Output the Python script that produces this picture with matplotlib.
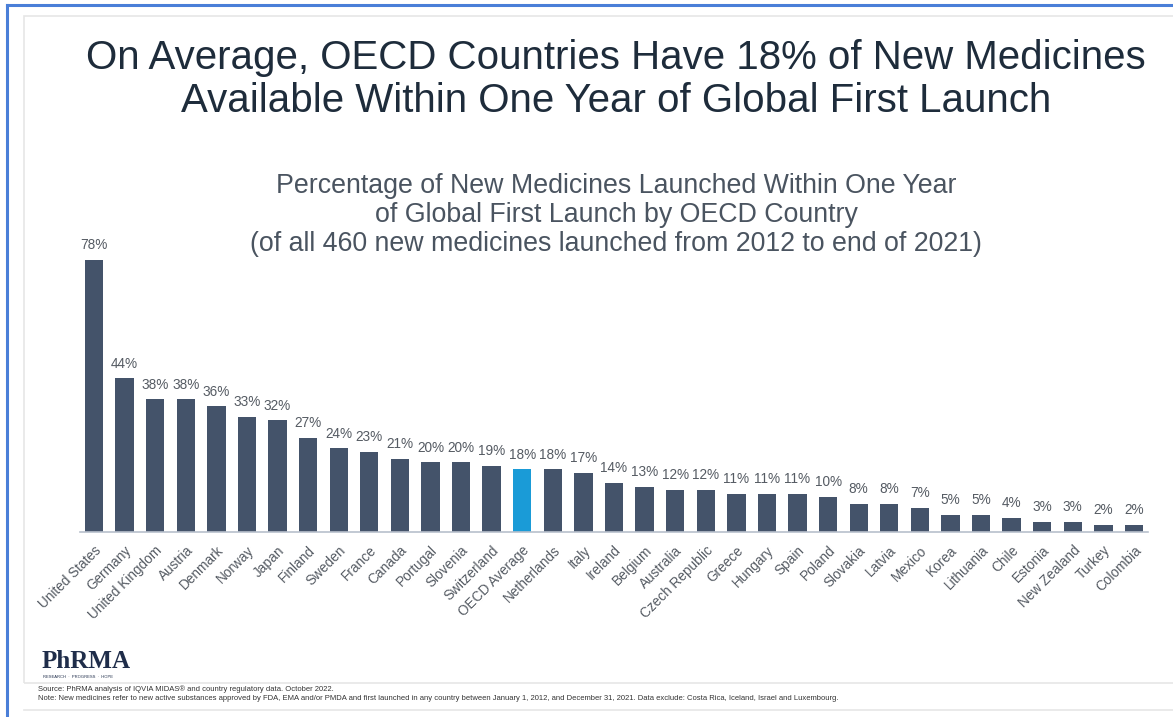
import matplotlib
matplotlib.use("Agg")
import matplotlib.pyplot as plt
from matplotlib.patches import Rectangle
from matplotlib.lines import Line2D

plt.rcParams["font.family"] = ["Liberation Sans", "DejaVu Sans"]

countries = ["United States", "Germany", "United Kingdom", "Austria", "Denmark",
             "Norway", "Japan", "Finland", "Sweden", "France", "Canada",
             "Portugal", "Slovenia", "Switzerland", "OECD Average", "Netherlands",
             "Italy", "Ireland", "Belgium", "Australia", "Czech Republic",
             "Greece", "Hungary", "Spain", "Poland", "Slovakia", "Latvia",
             "Mexico", "Korea", "Lithuania", "Chile", "Estonia", "New Zealand",
             "Turkey", "Colombia"]
pct = [78, 44, 38, 38, 36, 33, 32, 27, 24, 23, 21, 20, 20, 19, 18, 18, 17, 14,
       13, 12, 12, 11, 11, 11, 10, 8, 8, 7, 5, 5, 4, 3, 3, 2, 2]

BAR = "#44536a"
AVG = "#1a9bd7"
LBL = "#555b63"

W, H = 1173, 717
fig = plt.figure(figsize=(W / 100, H / 100), dpi=100)
fig.patch.set_facecolor("white")

# frame: blue outer border + light gray slide box
fig.add_artist(Line2D([7 / W, 7 / W], [0, 1 - 5 / H], color="#4a7fd8", lw=2.2))
fig.add_artist(Line2D([7 / W, 1], [1 - 5 / H, 1 - 5 / H], color="#4a7fd8", lw=2.2))
fig.add_artist(Rectangle((24 / W, 1 - 683 / H), 1.0, 667 / H, transform=fig.transFigure,
                         fill=False, ec="#e6e6e6", lw=1.2))
fig.add_artist(Line2D([24 / W, 1], [1 - 710 / H, 1 - 710 / H], color="#e6e6e6", lw=1.2))

# titles
fig.text(616 / W, 1 - 58 / H, "On Average, OECD Countries Have 18% of New Medicines",
         ha="center", va="center", fontsize=29, color="#1e2c3b")
fig.text(616 / W, 1 - 101 / H, "Available Within One Year of Global First Launch",
         ha="center", va="center", fontsize=29, color="#1e2c3b")
sub = ["Percentage of New Medicines Launched Within One Year",
       "of Global First Launch by OECD Country",
       "(of all 460 new medicines launched from 2012 to end of 2021)"]
for i, s in enumerate(sub):
    fig.text(616 / W, 1 - (186 + 29 * i) / H, s, ha="center", va="center",
             fontsize=19.3, color="#4a5460")

# bars
x0, x1 = 80, 1148
base, top = 532, 200
ax = fig.add_axes([x0 / W, 1 - base / H, (x1 - x0) / W, (base - top) / H])
step = (1134 - 94) / (len(pct) - 1)
ax.set_xlim(-(94 - x0) / step, len(pct) - 1 + (x1 - 1134) / step)
ax.set_ylim(0, (base - top) / 3.49)
colors = [AVG if c == "OECD Average" else BAR for c in countries]
xs = list(range(len(pct)))
ax.bar(xs, pct, width=0.6, color=colors)
for x, v in zip(xs, pct):
    ax.text(x, v + 2.2, f"{v}%", ha="center", va="bottom", fontsize=9.8, color=LBL)
for s in ["top", "right", "left"]:
    ax.spines[s].set_visible(False)
ax.spines["bottom"].set_color("#b8c0cc")
ax.spines["bottom"].set_linewidth(1.2)
ax.set_yticks([])
ax.set_xticks(xs)
ax.set_xticklabels(countries, rotation=45, ha="right", va="top",
                   rotation_mode="anchor", fontsize=9.8, color=LBL)
ax.tick_params(axis="x", length=0, pad=8)
ax.patch.set_alpha(0)

# logo
fig.text(42 / W, 1 - 661 / H, "PhRMA", ha="left", va="center", fontsize=18,
         family="Liberation Serif", fontweight="bold", color="#1f2d4a")
fig.text(43 / W, 1 - 677 / H, "RESEARCH  ·  PROGRESS  ·  HOPE", ha="left", va="center",
         fontsize=3, color="#1f2d4a")

# footnotes
fig.text(38 / W, 1 - 689 / H,
         "Source: PhRMA analysis of IQVIA MIDAS® and country regulatory data. October 2022.",
         ha="left", va="center", fontsize=5.5, color="#333333")
fig.text(38 / W, 1 - 699 / H,
         "Note: New medicines refer to new active substances approved by FDA, EMA and/or PMDA "
         "and first launched in any country between January 1, 2012, and December 31, 2021. "
         "Data exclude: Costa Rica, Iceland, Israel and Luxembourg.",
         ha="left", va="center", fontsize=5.5, color="#333333")

fig.savefig("out.png", dpi=100, facecolor="white")
